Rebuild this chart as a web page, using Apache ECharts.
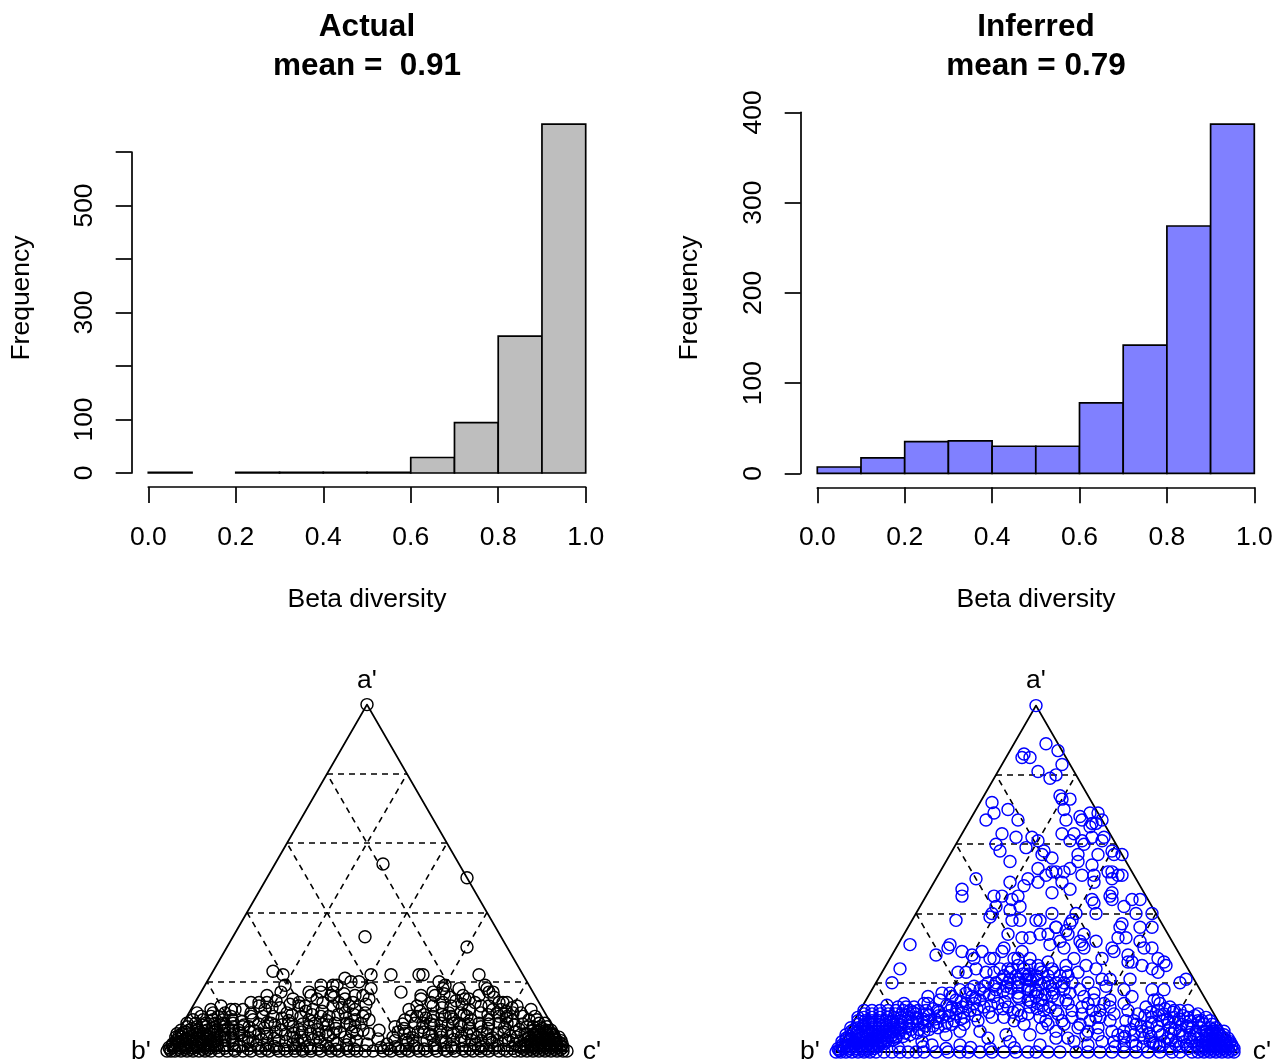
<!DOCTYPE html>
<html>
<head>
<meta charset="utf-8">
<script src="https://cdn.jsdelivr.net/npm/echarts@6/dist/echarts.min.js"></script>
<style>
  html, body { margin: 0; padding: 0; background: #fff; }
  #chart { width: 1282px; height: 1061px; }
</style>
</head>
<body>
<div id="chart"></div>
<script>
const histBreaks = [0, 0.1, 0.2, 0.3, 0.4, 0.5, 0.6, 0.7, 0.8, 0.9, 1.0];
const actualCounts = [1, 0, 1, 1, 1, 1, 29, 94, 256, 652];
const inferredCounts = [7, 17, 35, 36, 30, 30, 78, 142, 274, 387];
const actualYLabels = [0, 100, 300, 500];
const inferredYLabels = [0, 100, 200, 300, 400];
const gridLevels = [0.2, 0.4, 0.6, 0.8];
const vertexNames = ["a'", "b'", "c'"];

// ternary points as [a', c'] (b' = 1 - a' - c')
const actualPts = [
  [1, 0], [0.54, 0.27], [0.5, 0.5], [0.33, 0.33], [0.3, 0.6],
  [0.23, 0.15], [0.22, 0.18], [0.19, 0.2], [0.17, 0.2], [0.16, 0.17], [0.14, 0.16], [0.14, 0.14], [0.12, 0.11], [0.12, 0.1], [0.12, 0.05], [0.1, 0.06], [0.05, 0],
  [0.17, 0.27], [0.16, 0.28], [0.19, 0.29], [0.17, 0.33], [0.19, 0.32], [0.21, 0.34], [0.2, 0.36], [0.19, 0.33], [0.2, 0.38], [0.22, 0.4], [0.18, 0.42], [0.22, 0.45],
  [0.17, 0.5], [0.22, 0.52], [0.22, 0.53], [0.2, 0.58], [0.19, 0.6], [0.18, 0.6], [0.18, 0.64], [0.15, 0.67], [0.22, 0.67], [0.19, 0.7], [0.18, 0.71], [0.17, 0.72],
  [0.17, 0.73], [0.14, 0.77], [0.14, 0.78], [0.12, 0.85], [0.11, 0.44], [0.09, 0.46],
  [0, 0], [0, 0.01], [0, 0.02], [0, 0.035], [0, 0.05], [0, 0.065], [0, 0.08], [0, 0.095], [0, 0.11],
  [0.01, 0], [0.01, 0.012], [0.01, 0.027], [0.01, 0.042], [0.01, 0.058], [0.01, 0.073], [0.01, 0.09], [0.01, 0.105], [0.01, 0.12],
  [0.02, 0.004], [0.02, 0.02], [0.02, 0.036], [0.02, 0.05], [0.02, 0.067], [0.02, 0.083], [0.02, 0.1], [0.02, 0.116],
  [0.03, 0.008], [0.03, 0.025], [0.03, 0.043], [0.03, 0.06], [0.03, 0.076], [0.03, 0.094], [0.03, 0.11], [0.03, 0.13],
  [0.04, 0.002], [0.04, 0.018], [0.04, 0.035], [0.04, 0.054], [0.04, 0.07], [0.04, 0.088], [0.04, 0.105], [0.04, 0.125],
  [0.05, 0.012], [0.05, 0.03], [0.05, 0.047], [0.05, 0.065], [0.05, 0.082], [0.05, 0.1], [0.05, 0.118], [0.05, 0.14],
  [0.06, 0.005], [0.06, 0.025], [0.06, 0.045], [0.06, 0.07], [0.06, 0.092], [0.06, 0.113], [0.06, 0.135],
  [0.07, 0.015], [0.07, 0.04], [0.07, 0.062], [0.07, 0.085], [0.07, 0.108], [0.07, 0.13], [0.07, 0.155],
  [0.08, 0.01], [0.08, 0.032], [0.08, 0.057], [0.08, 0.08], [0.08, 0.1], [0.08, 0.125],
  [0.09, 0.02], [0.09, 0.045], [0.09, 0.07], [0.09, 0.095], [0.09, 0.118],
  [0.1, 0.035], [0.1, 0.078], [0.1, 0.11], [0.11, 0.02], [0.11, 0.06], [0.11, 0.09], [0.13, 0.07], [0.12, 0.13],
  [0.005, 0.005], [0.005, 0.028], [0.005, 0.043], [0.005, 0.058], [0.005, 0.087], [0.005, 0.1], [0.015, 0.005], [0.015, 0.035],
  [0.015, 0.065], [0.015, 0.095], [0.015, 0.112], [0.025, 0.015], [0.025, 0.045], [0.025, 0.075], [0.025, 0.105], [0.035, 0.01],
  [0.035, 0.028], [0.035, 0.05], [0.035, 0.068], [0.035, 0.085], [0.035, 0.1], [0.045, 0.008], [0.045, 0.04], [0.045, 0.075],
  [0.045, 0.11], [0.055, 0.02], [0.055, 0.055], [0.055, 0.09], [0.065, 0.03], [0.065, 0.08], [0.065, 0.12], [0.075, 0.05], [0.075, 0.095],
  [0, 0.13], [0, 0.15], [0, 0.17], [0, 0.19], [0, 0.21], [0, 0.235], [0, 0.255], [0, 0.28], [0, 0.3],
  [0.015, 0.135], [0.02, 0.155], [0.012, 0.175], [0.025, 0.19], [0.018, 0.215], [0.022, 0.24], [0.013, 0.262], [0.027, 0.285], [0.02, 0.305],
  [0.04, 0.14], [0.045, 0.165], [0.038, 0.185], [0.05, 0.205], [0.042, 0.228], [0.036, 0.25], [0.048, 0.272], [0.04, 0.295],
  [0.06, 0.15], [0.07, 0.17], [0.058, 0.19], [0.066, 0.21], [0.075, 0.232], [0.06, 0.255], [0.07, 0.28], [0.062, 0.3],
  [0.085, 0.145], [0.09, 0.17], [0.1, 0.19], [0.082, 0.21], [0.095, 0.24], [0.088, 0.26], [0.1, 0.285],
  [0.11, 0.155], [0.12, 0.185], [0.125, 0.22], [0.11, 0.245], [0.13, 0.265], [0.115, 0.29],
  [0.145, 0.2], [0.15, 0.24], [0.14, 0.26],
  [0, 0.32], [0, 0.34], [0, 0.36], [0, 0.385], [0, 0.41], [0, 0.43], [0, 0.455], [0, 0.475],
  [0.02, 0.32], [0.012, 0.345], [0.026, 0.37], [0.015, 0.39], [0.022, 0.415], [0.018, 0.44], [0.028, 0.46],
  [0.04, 0.315], [0.05, 0.335], [0.038, 0.36], [0.046, 0.38], [0.055, 0.405], [0.04, 0.425], [0.05, 0.45],
  [0.07, 0.32], [0.062, 0.345], [0.075, 0.365], [0.065, 0.39], [0.08, 0.41], [0.07, 0.435], [0.06, 0.46],
  [0.09, 0.31], [0.1, 0.335], [0.088, 0.355], [0.105, 0.375], [0.095, 0.4], [0.09, 0.425],
  [0.12, 0.305], [0.115, 0.33], [0.13, 0.35], [0.125, 0.375], [0.14, 0.395], [0.12, 0.41], [0.135, 0.43],
  [0.155, 0.34], [0.15, 0.37], [0.16, 0.39],
  [0, 0.495], [0, 0.515], [0.02, 0.49], [0.035, 0.51], [0.05, 0.48], [0.01, 0.53], [0.06, 0.5],
  [0, 0.54], [0, 0.56], [0, 0.585], [0, 0.605], [0, 0.63], [0, 0.65], [0, 0.675], [0, 0.7], [0, 0.72], [0, 0.745],
  [0.02, 0.54], [0.012, 0.565], [0.025, 0.59], [0.015, 0.61], [0.03, 0.635], [0.018, 0.66], [0.025, 0.685], [0.012, 0.705], [0.028, 0.73],
  [0.04, 0.545], [0.05, 0.57], [0.038, 0.595], [0.055, 0.615], [0.045, 0.64], [0.04, 0.665], [0.052, 0.69], [0.042, 0.715], [0.05, 0.74],
  [0.07, 0.535], [0.065, 0.56], [0.08, 0.58], [0.068, 0.605], [0.075, 0.63], [0.06, 0.655], [0.08, 0.675], [0.07, 0.7], [0.065, 0.725],
  [0.09, 0.55], [0.1, 0.575], [0.095, 0.6], [0.088, 0.62], [0.1, 0.645], [0.092, 0.67], [0.105, 0.69], [0.09, 0.715],
  [0.12, 0.545], [0.115, 0.575], [0.13, 0.6], [0.125, 0.625], [0.11, 0.65], [0.135, 0.67], [0.12, 0.695], [0.13, 0.72],
  [0.15, 0.56], [0.16, 0.59], [0.155, 0.63], [0.15, 0.68],
  [0, 0.765], [0, 0.785], [0, 0.805], [0, 0.83], [0, 0.85], [0, 0.87],
  [0.02, 0.76], [0.012, 0.78], [0.025, 0.8], [0.015, 0.82], [0.028, 0.84], [0.02, 0.86], [0.012, 0.875],
  [0.04, 0.755], [0.05, 0.775], [0.038, 0.795], [0.055, 0.815], [0.045, 0.835], [0.04, 0.855], [0.05, 0.87],
  [0.07, 0.75], [0.065, 0.77], [0.08, 0.79], [0.068, 0.81], [0.075, 0.83], [0.062, 0.85], [0.07, 0.865],
  [0.09, 0.76], [0.1, 0.78], [0.095, 0.8], [0.088, 0.82], [0.1, 0.84], [0.09, 0.86],
  [0.12, 0.755], [0.115, 0.79], [0.13, 0.81], [0.11, 0.83],
  [0, 0.885], [0, 0.9], [0, 0.915], [0, 0.93], [0, 0.945], [0, 0.96], [0, 0.975], [0, 0.99], [0, 1],
  [0.01, 0.88], [0.01, 0.895], [0.01, 0.91], [0.01, 0.925], [0.01, 0.94], [0.01, 0.955], [0.01, 0.97], [0.01, 0.985],
  [0.02, 0.885], [0.02, 0.9], [0.02, 0.916], [0.02, 0.932], [0.02, 0.948], [0.02, 0.963], [0.02, 0.978],
  [0.03, 0.878], [0.03, 0.895], [0.03, 0.91], [0.03, 0.926], [0.03, 0.942], [0.03, 0.958], [0.03, 0.97],
  [0.04, 0.885], [0.04, 0.9], [0.04, 0.917], [0.04, 0.933], [0.04, 0.948], [0.04, 0.96],
  [0.05, 0.875], [0.05, 0.892], [0.05, 0.91], [0.05, 0.925], [0.05, 0.94],
  [0.06, 0.885], [0.06, 0.9], [0.06, 0.918], [0.06, 0.93],
  [0.07, 0.88], [0.07, 0.897], [0.07, 0.915], [0.08, 0.89], [0.08, 0.905], [0.09, 0.88], [0.1, 0.87],
  [0.005, 0.89], [0.005, 0.908], [0.005, 0.922], [0.005, 0.938], [0.005, 0.952], [0.005, 0.968], [0.005, 0.982], [0.015, 0.888],
  [0.015, 0.905], [0.015, 0.92], [0.015, 0.935], [0.015, 0.95], [0.015, 0.965], [0.015, 0.978], [0.025, 0.89], [0.025, 0.908],
  [0.025, 0.925], [0.025, 0.94], [0.025, 0.955], [0.025, 0.968], [0.035, 0.885], [0.035, 0.905], [0.035, 0.92], [0.035, 0.937],
  [0.035, 0.952], [0.045, 0.895], [0.045, 0.91], [0.045, 0.93], [0.045, 0.945], [0.055, 0.9], [0.055, 0.92], [0.065, 0.905],
  [0.008, 0.14], [0.005, 0.165], [0.006, 0.2], [0.008, 0.225], [0.005, 0.245], [0.007, 0.27], [0.006, 0.29], [0.008, 0.315],
  [0.005, 0.335], [0.007, 0.355], [0.006, 0.375], [0.008, 0.4], [0.005, 0.42], [0.007, 0.445], [0.006, 0.465],
  [0.03, 0.15], [0.032, 0.175], [0.03, 0.2], [0.033, 0.22], [0.03, 0.265], [0.032, 0.31], [0.03, 0.33], [0.033, 0.35], [0.03, 0.4], [0.032, 0.44],
  [0.052, 0.155], [0.055, 0.18], [0.05, 0.225], [0.055, 0.245], [0.052, 0.29], [0.055, 0.31], [0.05, 0.355], [0.055, 0.37], [0.052, 0.39], [0.055, 0.435],
  [0.075, 0.155], [0.078, 0.19], [0.08, 0.22], [0.076, 0.25], [0.08, 0.265], [0.078, 0.3], [0.08, 0.33], [0.078, 0.35], [0.08, 0.38], [0.076, 0.42], [0.08, 0.445],
  [0.1, 0.16], [0.1, 0.215], [0.105, 0.26], [0.105, 0.31], [0.1, 0.355], [0.11, 0.39], [0.105, 0.415], [0.1, 0.44],
  [0.13, 0.165], [0.135, 0.24], [0.13, 0.28], [0.14, 0.32], [0.13, 0.39], [0.14, 0.36], [0.15, 0.3], [0.16, 0.33], [0.165, 0.36],
  [0.17, 0.3], [0.15, 0.43], [0.16, 0.41], [0.125, 0.2], [0.14, 0.18],
  [0.006, 0.55], [0.007, 0.575], [0.005, 0.595], [0.008, 0.62], [0.006, 0.64], [0.007, 0.665], [0.005, 0.69], [0.008, 0.71],
  [0.006, 0.735], [0.005, 0.755], [0.007, 0.775], [0.006, 0.795], [0.008, 0.815], [0.005, 0.84], [0.007, 0.86],
  [0.03, 0.555], [0.033, 0.58], [0.03, 0.6], [0.032, 0.65], [0.03, 0.67], [0.033, 0.7], [0.03, 0.72], [0.032, 0.745], [0.03, 0.77],
  [0.033, 0.79], [0.03, 0.81], [0.032, 0.83], [0.03, 0.85],
  [0.055, 0.55], [0.052, 0.58], [0.055, 0.6], [0.05, 0.63], [0.055, 0.655], [0.052, 0.675], [0.055, 0.7], [0.05, 0.725], [0.055, 0.76], [0.052, 0.8], [0.055, 0.845],
  [0.078, 0.55], [0.08, 0.6], [0.078, 0.62], [0.08, 0.645], [0.076, 0.665], [0.08, 0.69], [0.078, 0.715], [0.08, 0.74], [0.078, 0.765], [0.08, 0.81], [0.078, 0.85],
  [0.1, 0.56], [0.105, 0.59], [0.1, 0.615], [0.105, 0.635], [0.1, 0.66], [0.11, 0.68], [0.1, 0.7], [0.11, 0.73], [0.105, 0.75], [0.11, 0.77], [0.1, 0.8], [0.11, 0.81],
  [0.13, 0.56], [0.14, 0.59], [0.14, 0.62], [0.13, 0.645], [0.145, 0.65], [0.14, 0.7], [0.13, 0.74], [0.14, 0.76], [0.12, 0.775], [0.125, 0.8],
  [0.16, 0.555], [0.165, 0.61], [0.16, 0.66], [0.16, 0.7], [0.17, 0.58], [0.155, 0.74]
];

const inferredPts = [
  [1, 0], [0.89, 0.08], [0.87, 0.12], [0.86, 0.04], [0.85, 0.04], [0.85, 0.06], [0.83, 0.15], [0.81, 0.1], [0.79, 0.14], [0.8, 0.15],
  [0.74, 0.19], [0.73, 0.2], [0.73, 0.22], [0.72, 0.03], [0.7, 0.08], [0.69, 0.05], [0.67, 0.04], [0.67, 0.12], [0.7, 0.22], [0.67, 0.24],
  [0.68, 0.27], [0.69, 0.29], [0.69, 0.31], [0.67, 0.28], [0.66, 0.31], [0.66, 0.32],
  [0.63, 0.1], [0.62, 0.14], [0.62, 0.18], [0.63, 0.25], [0.63, 0.28], [0.61, 0.28], [0.6, 0.32], [0.62, 0.33], [0.62, 0.36],
  [0.6, 0.1], [0.58, 0.12], [0.59, 0.18], [0.58, 0.23], [0.56, 0.26], [0.55, 0.16], [0.55, 0.33], [0.54, 0.37], [0.57, 0.37], [0.57, 0.41],
  [0.57, 0.43], [0.52, 0.42], [0.51, 0.46], [0.5, 0.1], [0.51, 0.27], [0.52, 0.29], [0.52, 0.31], [0.51, 0.36], [0.51, 0.39],
  [0.61, 0.2], [0.57, 0.23], [0.53, 0.24], [0.52, 0.28], [0.53, 0.32], [0.57, 0.32], [0.61, 0.31], [0.65, 0.31], [0.67, 0.33], [0.61, 0.36],
  [0.58, 0.4], [0.52, 0.43], [0.45, 0.46], [0.44, 0.47], [0.44, 0.42], [0.4, 0.45], [0.4, 0.4], [0.38, 0.4], [0.34, 0.36], [0.34, 0.41],
  [0.32, 0.45], [0.3, 0.47], [0.32, 0.49], [0.36, 0.53], [0.33, 0.56], [0.36, 0.58], [0.3, 0.62], [0.3, 0.64], [0.44, 0.52], [0.4, 0.55],
  [0.4, 0.59], [0.27, 0.67], [0.25, 0.7], [0.23, 0.69], [0.21, 0.77], [0.15, 0.72],
  [0.5, 0.23], [0.45, 0.23], [0.41, 0.23], [0.38, 0.27], [0.34, 0.26], [0.42, 0.19], [0.39, 0.19], [0.45, 0.17], [0.4, 0.34], [0.36, 0.37],
  [0.31, 0.38], [0.34, 0.34], [0.33, 0.32], [0.27, 0.35], [0.3, 0.42], [0.27, 0.46], [0.25, 0.5], [0.27, 0.53], [0.3, 0.54], [0.26, 0.6],
  [0.21, 0.63], [0.3, 0.13], [0.27, 0.21], [0.27, 0.25], [0.29, 0.27], [0.27, 0.32], [0.29, 0.32],
  [0.47, 0.08], [0.45, 0.09], [0.49, 0.19], [0.48, 0.23], [0.45, 0.19], [0.44, 0.22], [0.42, 0.25], [0.4, 0.19], [0.38, 0.11], [0.38, 0.25],
  [0.38, 0.31], [0.33, 0.3], [0.31, 0.03], [0.28, 0.11], [0.31, 0.13], [0.29, 0.17], [0.28, 0.2], [0.29, 0.22], [0.27, 0.26], [0.3, 0.27],
  [0.27, 0.31], [0.24, 0.04], [0.2, 0.04], [0.23, 0.19], [0.23, 0.21], [0.24, 0.23], [0.23, 0.26], [0.24, 0.29], [0.24, 0.32], [0.24, 0.35], [0.21, 0.38],
  [0.49, 0.26], [0.46, 0.31], [0.49, 0.32], [0.47, 0.35], [0.49, 0.4], [0.46, 0.46], [0.43, 0.43], [0.42, 0.51], [0.44, 0.54], [0.5, 0.44], [0.51, 0.45],
  [0.38, 0.32], [0.36, 0.37], [0.37, 0.4], [0.34, 0.45], [0.31, 0.46], [0.32, 0.4], [0.35, 0.4], [0.37, 0.53], [0.36, 0.61], [0.33, 0.54],
  [0.32, 0.6], [0.29, 0.55], [0.28, 0.59], [0.26, 0.61], [0.25, 0.64], [0.26, 0.69], [0.24, 0.67], [0.24, 0.53], [0.21, 0.56], [0.21, 0.58],
  [0.23, 0.49], [0.23, 0.46], [0.24, 0.42], [0.25, 0.38], [0.2, 0.42], [0.18, 0.45], [0.2, 0.49], [0.2, 0.53], [0.18, 0.7], [0.18, 0.73],
  [0.2, 0.76], [0.15, 0.73], [0.16, 0.66], [0.14, 0.6], [0.12, 0.53], [0.09, 0.52], [0.08, 0.49], [0.07, 0.57], [0.04, 0.56], [0.1, 0.6],
  [0.02, 0.62], [0, 0.6], [0, 0.66], [0, 0.78], [0.02, 0.79], [0, 0.5], [0.09, 0.64], [0.06, 0.66],
  [0, 0], [0, 0.012], [0, 0.025], [0, 0.04], [0, 0.055], [0, 0.07], [0, 0.085], [0, 0.1],
  [0.01, 0], [0.01, 0.015], [0.01, 0.03], [0.01, 0.045], [0.01, 0.06], [0.01, 0.075], [0.01, 0.09],
  [0.02, 0.005], [0.02, 0.02], [0.02, 0.035], [0.02, 0.05], [0.02, 0.065], [0.02, 0.08], [0.02, 0.095],
  [0.03, 0], [0.03, 0.015], [0.03, 0.03], [0.03, 0.045], [0.03, 0.06], [0.03, 0.075], [0.03, 0.09], [0.03, 0.105],
  [0.04, 0.005], [0.04, 0.02], [0.04, 0.038], [0.04, 0.055], [0.04, 0.07], [0.04, 0.085], [0.04, 0.1],
  [0.05, 0], [0.05, 0.015], [0.05, 0.032], [0.05, 0.05], [0.05, 0.066], [0.05, 0.082], [0.05, 0.1], [0.05, 0.118],
  [0.06, 0.008], [0.06, 0.025], [0.06, 0.043], [0.06, 0.06], [0.06, 0.078], [0.06, 0.095], [0.06, 0.112],
  [0.07, 0.002], [0.07, 0.02], [0.07, 0.037], [0.07, 0.055], [0.07, 0.072], [0.07, 0.09], [0.07, 0.108], [0.07, 0.125],
  [0.08, 0.015], [0.08, 0.032], [0.08, 0.05], [0.08, 0.068], [0.08, 0.085], [0.08, 0.103], [0.08, 0.12],
  [0.09, 0.01], [0.09, 0.028], [0.09, 0.045], [0.09, 0.063], [0.09, 0.08], [0.09, 0.098], [0.09, 0.117], [0.09, 0.135],
  [0.1, 0.02], [0.1, 0.04], [0.1, 0.06], [0.1, 0.078], [0.1, 0.095], [0.1, 0.113], [0.1, 0.13],
  [0.11, 0.015], [0.11, 0.035], [0.11, 0.055], [0.11, 0.075], [0.11, 0.093], [0.11, 0.11], [0.11, 0.128], [0.11, 0.145],
  [0.12, 0.03], [0.12, 0.05], [0.12, 0.07], [0.12, 0.09], [0.12, 0.108], [0.12, 0.125], [0.12, 0.145], [0.12, 0.165],
  [0.005, 0.005], [0.005, 0.03], [0.005, 0.048], [0.005, 0.078], [0.015, 0.008], [0.015, 0.038], [0.015, 0.068], [0.015, 0.098],
  [0.025, 0.028], [0.025, 0.058], [0.025, 0.088], [0.035, 0.008], [0.035, 0.038], [0.035, 0.068], [0.035, 0.095], [0.045, 0.01],
  [0.045, 0.045], [0.045, 0.078], [0.045, 0.108], [0.055, 0.025], [0.055, 0.058], [0.055, 0.088], [0.065, 0.012], [0.065, 0.045],
  [0.065, 0.1], [0.075, 0.03], [0.075, 0.08], [0.085, 0.04], [0.085, 0.095],
  [0.04, 0.13], [0.07, 0.14], [0.1, 0.15], [0.13, 0.13], [0.14, 0.15],
  [0.05, 0.16], [0.08, 0.165], [0.11, 0.17], [0.14, 0.16], [0.16, 0.15],
  [0.06, 0.19], [0.09, 0.185], [0.12, 0.195], [0.15, 0.185], [0.17, 0.18],
  [0.07, 0.22], [0.1, 0.215], [0.13, 0.225], [0.16, 0.21], [0.18, 0.22],
  [0.08, 0.25], [0.11, 0.245], [0.14, 0.255], [0.17, 0.24], [0.19, 0.25],
  [0.08, 0.28], [0.12, 0.275], [0.15, 0.285], [0.18, 0.27], [0.2, 0.28],
  [0.09, 0.31], [0.13, 0.305], [0.16, 0.315], [0.19, 0.3], [0.21, 0.31],
  [0.1, 0.34], [0.14, 0.335], [0.17, 0.345], [0.2, 0.33], [0.22, 0.34],
  [0.1, 0.37], [0.13, 0.365], [0.16, 0.375], [0.19, 0.36], [0.22, 0.37],
  [0.09, 0.4], [0.12, 0.395], [0.15, 0.405], [0.18, 0.39], [0.21, 0.4],
  [0.08, 0.43], [0.11, 0.425], [0.14, 0.435], [0.17, 0.42], [0.2, 0.43],
  [0.055, 0.145], [0.085, 0.15], [0.115, 0.135], [0.065, 0.175], [0.095, 0.2], [0.125, 0.18], [0.075, 0.205], [0.105, 0.23], [0.135, 0.21],
  [0.085, 0.235], [0.115, 0.26], [0.145, 0.24], [0.095, 0.265], [0.125, 0.29], [0.155, 0.27], [0.105, 0.295], [0.135, 0.32], [0.165, 0.3],
  [0.115, 0.325], [0.145, 0.35], [0.175, 0.33], [0.125, 0.355], [0.155, 0.38], [0.185, 0.345], [0.115, 0.385], [0.145, 0.415], [0.175, 0.4],
  [0.105, 0.41], [0.135, 0.45], [0.165, 0.44], [0.195, 0.415], [0.225, 0.355], [0.205, 0.385], [0.23, 0.32],
  [0.1, 0.46], [0.13, 0.47], [0.16, 0.46], [0.19, 0.47], [0.07, 0.48], [0.11, 0.5], [0.14, 0.51], [0.17, 0.5], [0.06, 0.52], [0.1, 0.54],
  [0.13, 0.55], [0.16, 0.54], [0.08, 0.57], [0.12, 0.58], [0.15, 0.57], [0.06, 0.6], [0.1, 0.61], [0.13, 0.62], [0.05, 0.63],
  [0.03, 0.2], [0.05, 0.25], [0.02, 0.3], [0.04, 0.36], [0.06, 0.33], [0.03, 0.42], [0.05, 0.46], [0.02, 0.5], [0.04, 0.53], [0.05, 0.4],
  [0.01, 0.38], [0.06, 0.28], [0.02, 0.23], [0.03, 0.58], [0.05, 0.6], [0.03, 0.65], [0.05, 0.68],
  [0, 0.12], [0, 0.14], [0, 0.16], [0, 0.18], [0, 0.2], [0, 0.22], [0, 0.25], [0, 0.28], [0, 0.31], [0, 0.33], [0, 0.36], [0, 0.39],
  [0, 0.42], [0, 0.45], [0, 0.48], [0, 0.53], [0, 0.56], [0, 0.63], [0, 0.69], [0, 0.72], [0, 0.75], [0, 0.81], [0, 0.84],
  [0.012, 0.15], [0.015, 0.21], [0.01, 0.27], [0.013, 0.33], [0.012, 0.44],
  [0.03, 0.68], [0.06, 0.69], [0.09, 0.68], [0.12, 0.67],
  [0.02, 0.71], [0.05, 0.72], [0.08, 0.71], [0.11, 0.7], [0.13, 0.71],
  [0.02, 0.74], [0.04, 0.75], [0.07, 0.745], [0.1, 0.74], [0.12, 0.745], [0.14, 0.74],
  [0.03, 0.77], [0.06, 0.775], [0.09, 0.77], [0.11, 0.765], [0.13, 0.77],
  [0.02, 0.8], [0.04, 0.81], [0.07, 0.8], [0.1, 0.795], [0.12, 0.8],
  [0.01, 0.83], [0.03, 0.835], [0.06, 0.83], [0.08, 0.825], [0.1, 0.83], [0.12, 0.82],
  [0, 0.86], [0.02, 0.865], [0.05, 0.86], [0.07, 0.855], [0.09, 0.86], [0.11, 0.85],
  [0, 0.89], [0.02, 0.89], [0.04, 0.885], [0.06, 0.89], [0.08, 0.88], [0.1, 0.875],
  [0.045, 0.7], [0.075, 0.725], [0.105, 0.72], [0.055, 0.755], [0.085, 0.79], [0.115, 0.785], [0.05, 0.79], [0.035, 0.82], [0.065, 0.815],
  [0.095, 0.81], [0.045, 0.845], [0.075, 0.84], [0.03, 0.855], [0.06, 0.87], [0.085, 0.865], [0.025, 0.78], [0.015, 0.76],
  [0, 0.905], [0, 0.92], [0, 0.935], [0, 0.95], [0, 0.965], [0, 0.98], [0, 0.995],
  [0.01, 0.9], [0.01, 0.915], [0.01, 0.93], [0.01, 0.945], [0.01, 0.96], [0.01, 0.975], [0.01, 0.99],
  [0.02, 0.905], [0.02, 0.92], [0.02, 0.935], [0.02, 0.95], [0.02, 0.965], [0.02, 0.98],
  [0.03, 0.9], [0.03, 0.915], [0.03, 0.93], [0.03, 0.945], [0.03, 0.96], [0.03, 0.97],
  [0.04, 0.905], [0.04, 0.92], [0.04, 0.935], [0.04, 0.95], [0.04, 0.96],
  [0.05, 0.9], [0.05, 0.915], [0.05, 0.93], [0.05, 0.945],
  [0.06, 0.895], [0.06, 0.91], [0.06, 0.925], [0.06, 0.94],
  [0.07, 0.9], [0.07, 0.915], [0.08, 0.9], [0.09, 0.89],
  [0.005, 0.912], [0.005, 0.928], [0.005, 0.943], [0.005, 0.958], [0.005, 0.972], [0.005, 0.988], [0.015, 0.908], [0.015, 0.923],
  [0.015, 0.938], [0.015, 0.953], [0.015, 0.968], [0.015, 0.982], [0.025, 0.912], [0.025, 0.928], [0.025, 0.943], [0.025, 0.958],
  [0.025, 0.972], [0.035, 0.908], [0.035, 0.923], [0.035, 0.94], [0.035, 0.955], [0.045, 0.912], [0.045, 0.928], [0.045, 0.942],
  [0.055, 0.908], [0.055, 0.925], [0.065, 0.91],
  [0.025, 0.11], [0.045, 0.115], [0.065, 0.13], [0.035, 0.125], [0.055, 0.13], [0.075, 0.145], [0.095, 0.155], [0.045, 0.145], [0.065, 0.155],
  [0.085, 0.175], [0.105, 0.18], [0.055, 0.175], [0.075, 0.185], [0.095, 0.17], [0.115, 0.2], [0.065, 0.2], [0.085, 0.21], [0.105, 0.205],
  [0.125, 0.24], [0.075, 0.235], [0.09, 0.25], [0.1, 0.27], [0.12, 0.225], [0.13, 0.25], [0.14, 0.275], [0.16, 0.26], [0.15, 0.225],
  [0.17, 0.2], [0.18, 0.245], [0.19, 0.275], [0.2, 0.3], [0.21, 0.33], [0.17, 0.285], [0.18, 0.31], [0.19, 0.33], [0.2, 0.355], [0.17, 0.37],
  [0.18, 0.41], [0.19, 0.385], [0.21, 0.37], [0.22, 0.39], [0.23, 0.4], [0.22, 0.42], [0.2, 0.45], [0.19, 0.44], [0.16, 0.42], [0.15, 0.44],
  [0.13, 0.42], [0.125, 0.44], [0.12, 0.46], [0.15, 0.48], [0.18, 0.48], [0.17, 0.46], [0.2, 0.47], [0.22, 0.45],
  [0.23, 0.28], [0.24, 0.31], [0.25, 0.33], [0.22, 0.31], [0.25, 0.36], [0.24, 0.39], [0.23, 0.43], [0.22, 0.47], [0.25, 0.45], [0.26, 0.4],
  [0.21, 0.35], [0.225, 0.37],
  [0.09, 0.48], [0.12, 0.49], [0.15, 0.5], [0.18, 0.52], [0.08, 0.53], [0.11, 0.56], [0.14, 0.56], [0.17, 0.56], [0.19, 0.58], [0.09, 0.59],
  [0.12, 0.6], [0.15, 0.61], [0.18, 0.63], [0.07, 0.62], [0.11, 0.64], [0.14, 0.65],
  [0.015, 0.69], [0.04, 0.7], [0.065, 0.705], [0.09, 0.7], [0.115, 0.73], [0.03, 0.725], [0.06, 0.735], [0.085, 0.745], [0.105, 0.755],
  [0.125, 0.76], [0.045, 0.765], [0.075, 0.765], [0.095, 0.78], [0.12, 0.785], [0.015, 0.8], [0.03, 0.805], [0.055, 0.81], [0.085, 0.805],
  [0.105, 0.815], [0.02, 0.84], [0.05, 0.84], [0.07, 0.845], [0.09, 0.84], [0.105, 0.845], [0.01, 0.875], [0.03, 0.875], [0.05, 0.875],
  [0.07, 0.875], [0.09, 0.87], [0.015, 0.85], [0.04, 0.865],
  [0.005, 0.008], [0.015, 0.022], [0.025, 0.04], [0.015, 0.052], [0.025, 0.07], [0.035, 0.082], [0.045, 0.092], [0.055, 0.108], [0.065, 0.115],
  [0.005, 0.065], [0.015, 0.082], [0.025, 0.1], [0.035, 0.11], [0.045, 0.128], [0.14, 0.1], [0.13, 0.11], [0.13, 0.09], [0.135, 0.06],
  [0.12, 0.01], [0.1, 0.005]
];

const FONT = 'Liberation Sans, Arial, Helvetica, sans-serif';
const H = Math.sqrt(3) / 2;

// ternary [a', c'] -> plane position inside the unit triangle
function toXY(p) {
  return [p[1] + p[0] / 2, p[0] * H];
}

function binData(counts) {
  const out = [];
  for (let i = 0; i < counts.length; i += 1) {
    out.push([histBreaks[i], histBreaks[i + 1], counts[i]]);
  }
  return out;
}

function histSeries(idx, counts, fill) {
  return {
    type: 'custom',
    xAxisIndex: idx,
    yAxisIndex: idx,
    clip: false,
    silent: true,
    data: binData(counts),
    renderItem: (params, api) => {
      const v = api.value(2);
      if (!v) return null;
      const p0 = api.coord([api.value(0), 0]);
      const p1 = api.coord([api.value(1), v]);
      return {
        type: 'rect',
        shape: { x: p0[0], y: p1[1], width: p1[0] - p0[0], height: p0[1] - p1[1] },
        style: { fill, stroke: '#000', lineWidth: 1.7 },
      };
    },
  };
}

function histAxes(idx, yMax, shown) {
  const lineStyle = { color: '#000', width: 1.7 };
  return {
    x: {
      type: 'value', gridIndex: idx, min: 0, max: 1, interval: 0.2, position: 'bottom', offset: 14,
      axisLine: { show: true, onZero: false, lineStyle },
      axisTick: { show: true, length: 16, lineStyle },
      axisLabel: { color: '#000', fontSize: 26.5, fontFamily: FONT, margin: 37, formatter: v => v.toFixed(1) },
      splitLine: { show: false },
    },
    y: {
      type: 'value', gridIndex: idx, min: 0, max: yMax, interval: 100, position: 'left', offset: 16.6,
      axisLine: { show: true, onZero: false, lineStyle },
      axisTick: { show: true, length: 16, lineStyle },
      axisLabel: {
        color: '#000', fontSize: 26.5, fontFamily: FONT, margin: 34, rotate: 90,
        formatter: v => (shown.indexOf(v) >= 0 ? String(v) : ''),
      },
      splitLine: { show: false },
    },
  };
}

function triangleSeries(idx, pts, color) {
  const apex = toXY([1, 0]);
  const left = toXY([0, 0]);
  const right = toXY([0, 1]);
  const dashed = [];
  gridLevels.forEach((t) => {
    dashed.push({ coords: [toXY([t, 0]), toXY([t, 1 - t])] });
    dashed.push({ coords: [toXY([0, t]), toXY([1 - t, t])] });
    dashed.push({ coords: [toXY([0, 1 - t]), toXY([1 - t, 0])] });
  });
  return [
    {
      type: 'lines', coordinateSystem: 'cartesian2d', xAxisIndex: idx, yAxisIndex: idx, silent: true, z: 2,
      data: dashed,
      lineStyle: { color: '#000', width: 1.6, type: [6, 5], opacity: 1 },
    },
    {
      type: 'lines', coordinateSystem: 'cartesian2d', xAxisIndex: idx, yAxisIndex: idx, silent: true, z: 3,
      polyline: true,
      data: [{ coords: [left, right, apex, left] }],
      lineStyle: { color: '#000', width: 1.8, opacity: 1 },
    },
    {
      type: 'scatter', xAxisIndex: idx, yAxisIndex: idx, silent: true, clip: false, z: 4,
      symbol: 'circle', symbolSize: 12,
      data: pts.map(toXY),
      itemStyle: { color: 'rgba(0,0,0,0)', borderColor: color, borderWidth: 1.45, opacity: 1 },
    },
  ];
}

function triAxes(idx) {
  return {
    x: { type: 'value', gridIndex: idx, min: 0, max: 1, show: false },
    y: { type: 'value', gridIndex: idx, min: 0, max: H, show: false },
  };
}

function txt(text, x, y, size, bold, rotation) {
  return {
    type: 'text', x, y, rotation: rotation || 0, silent: true,
    style: {
      text, fill: '#000', font: `${bold ? 'bold ' : ''}${size}px ${FONT}`,
      textAlign: 'center', textVerticalAlign: 'middle',
    },
  };
}

const ha = histAxes(0, 600, actualYLabels);
const hi = histAxes(1, 400, inferredYLabels);
const ta = triAxes(2);
const ti = triAxes(3);

const chart = echarts.init(document.getElementById('chart'), null, { renderer: 'canvas' });
chart.setOption({
  animation: false,
  backgroundColor: '#fff',
  grid: [
    { left: 148.3, top: 152, width: 437.4, height: 321 },
    { left: 817.3, top: 112.3, width: 437, height: 361 },
    { left: 167, top: 704.6, width: 400, height: 346.4 },
    { left: 836, top: 705.6, width: 400, height: 346.4 },
  ],
  xAxis: [ha.x, hi.x, ta.x, ti.x],
  yAxis: [ha.y, hi.y, ta.y, ti.y],
  series: [
    histSeries(0, actualCounts, '#bebebe'),
    histSeries(1, inferredCounts, '#8080ff'),
    ...triangleSeries(2, actualPts, '#000'),
    ...triangleSeries(3, inferredPts, '#0000ff'),
  ],
  graphic: [
    txt('Actual', 367, 27, 31.5, true),
    txt('mean =  0.91', 367, 66, 31.5, true),
    txt('Inferred', 1036, 27, 31.5, true),
    txt('mean = 0.79', 1036, 66, 31.5, true),
    txt('Beta diversity', 367, 600, 26.5),
    txt('Beta diversity', 1036, 600, 26.5),
    txt('Frequency', 22, 298, 26.5, false, Math.PI / 2),
    txt('Frequency', 690, 298, 26.5, false, Math.PI / 2),
    txt(vertexNames[0], 367, 681, 26.5),
    txt(vertexNames[1], 141, 1052, 26.5),
    txt(vertexNames[2], 592, 1052, 26.5),
    txt(vertexNames[0], 1036, 681, 26.5),
    txt(vertexNames[1], 810, 1052, 26.5),
    txt(vertexNames[2], 1262, 1052, 26.5),
  ],
});
</script>
</body>
</html>
